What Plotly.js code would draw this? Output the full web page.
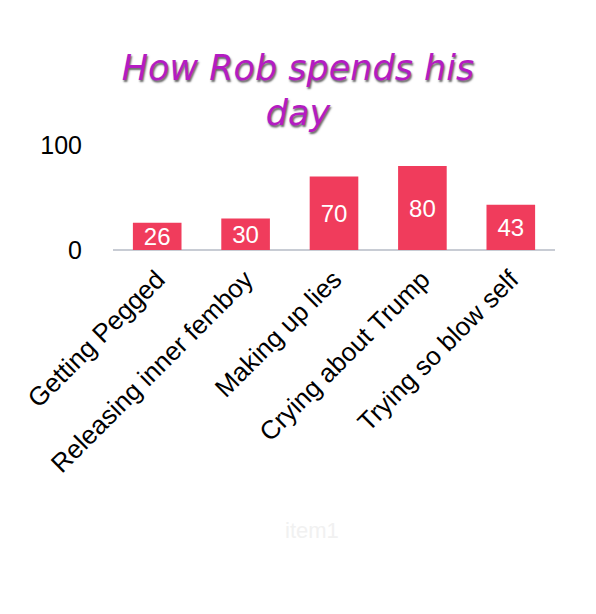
<!DOCTYPE html>
<html>
<head>
<meta charset="utf-8">
<script src="https://cdn.plot.ly/plotly-3.0.1.min.js"></script>
<style>
  html, body { margin: 0; padding: 0; background: #fff; }
  #chart { width: 596px; height: 614px; }
</style>
</head>
<body>
<div id="chart"></div>
<script>
// activities and how much of the day each one takes
var activities = ['Getting Pegged', 'Releasing inner femboy', 'Making up lies', 'Crying about Trump', 'Trying so blow self'];
var amounts = [26, 30, 70, 80, 43];
var yTicks = [0, 100];

var barTrace = {
  type: 'bar',
  name: 'item1',
  x: activities,
  y: amounts,
  text: amounts.map(String),
  textposition: 'inside',
  insidetextanchor: 'middle',
  textangle: 0,
  constraintext: 'none',
  textfont: { family: 'Liberation Sans, Arial, sans-serif', size: 24, color: '#ffffff' },
  marker: { color: '#f03c5c' },
  hoverinfo: 'x+y'
};

var layout = {
  width: 596,
  height: 614,
  margin: { l: 113, r: 41, t: 145, b: 364 },
  paper_bgcolor: '#ffffff',
  plot_bgcolor: '#ffffff',
  showlegend: false,
  bargap: 0.45,
  font: { family: 'Liberation Sans, Arial, sans-serif', color: '#000000' },
  title: {
    text: 'How Rob spends his<br>day',
    x: 0.5,
    xanchor: 'center',
    y: 0.87,
    yanchor: 'middle',
    font: {
      family: 'DejaVu Sans, sans-serif',
      size: 35,
      style: 'italic',
      color: '#b41cc2',
      shadow: '1px 2px 2px #666'
    }
  },
  xaxis: {
    type: 'category',
    tickangle: -45,
    tickfont: { size: 26, color: '#000000' },
    ticklabelstandoff: 8,
    showgrid: false,
    showline: false,
    ticks: ''
  },
  yaxis: {
    range: [0, 100],
    tickvals: yTicks,
    ticktext: yTicks.map(String),
    tickfont: { size: 25, color: '#000000' },
    ticklabelstandoff: 30,
    gridcolor: '#dddddd',
    zeroline: true,
    zerolinecolor: '#c8ccd4',
    zerolinewidth: 2,
    showline: false,
    ticks: ''
  },
  annotations: [
    {
      text: 'item1',
      xref: 'paper', yref: 'paper',
      x: 0.45, y: -2.67,
      xanchor: 'center', yanchor: 'middle',
      showarrow: false,
      font: { size: 22, color: '#f1f1f1' }
    }
  ]
};

Plotly.newPlot('chart', [barTrace], layout, { displayModeBar: false, staticPlot: true });
</script>
</body>
</html>
